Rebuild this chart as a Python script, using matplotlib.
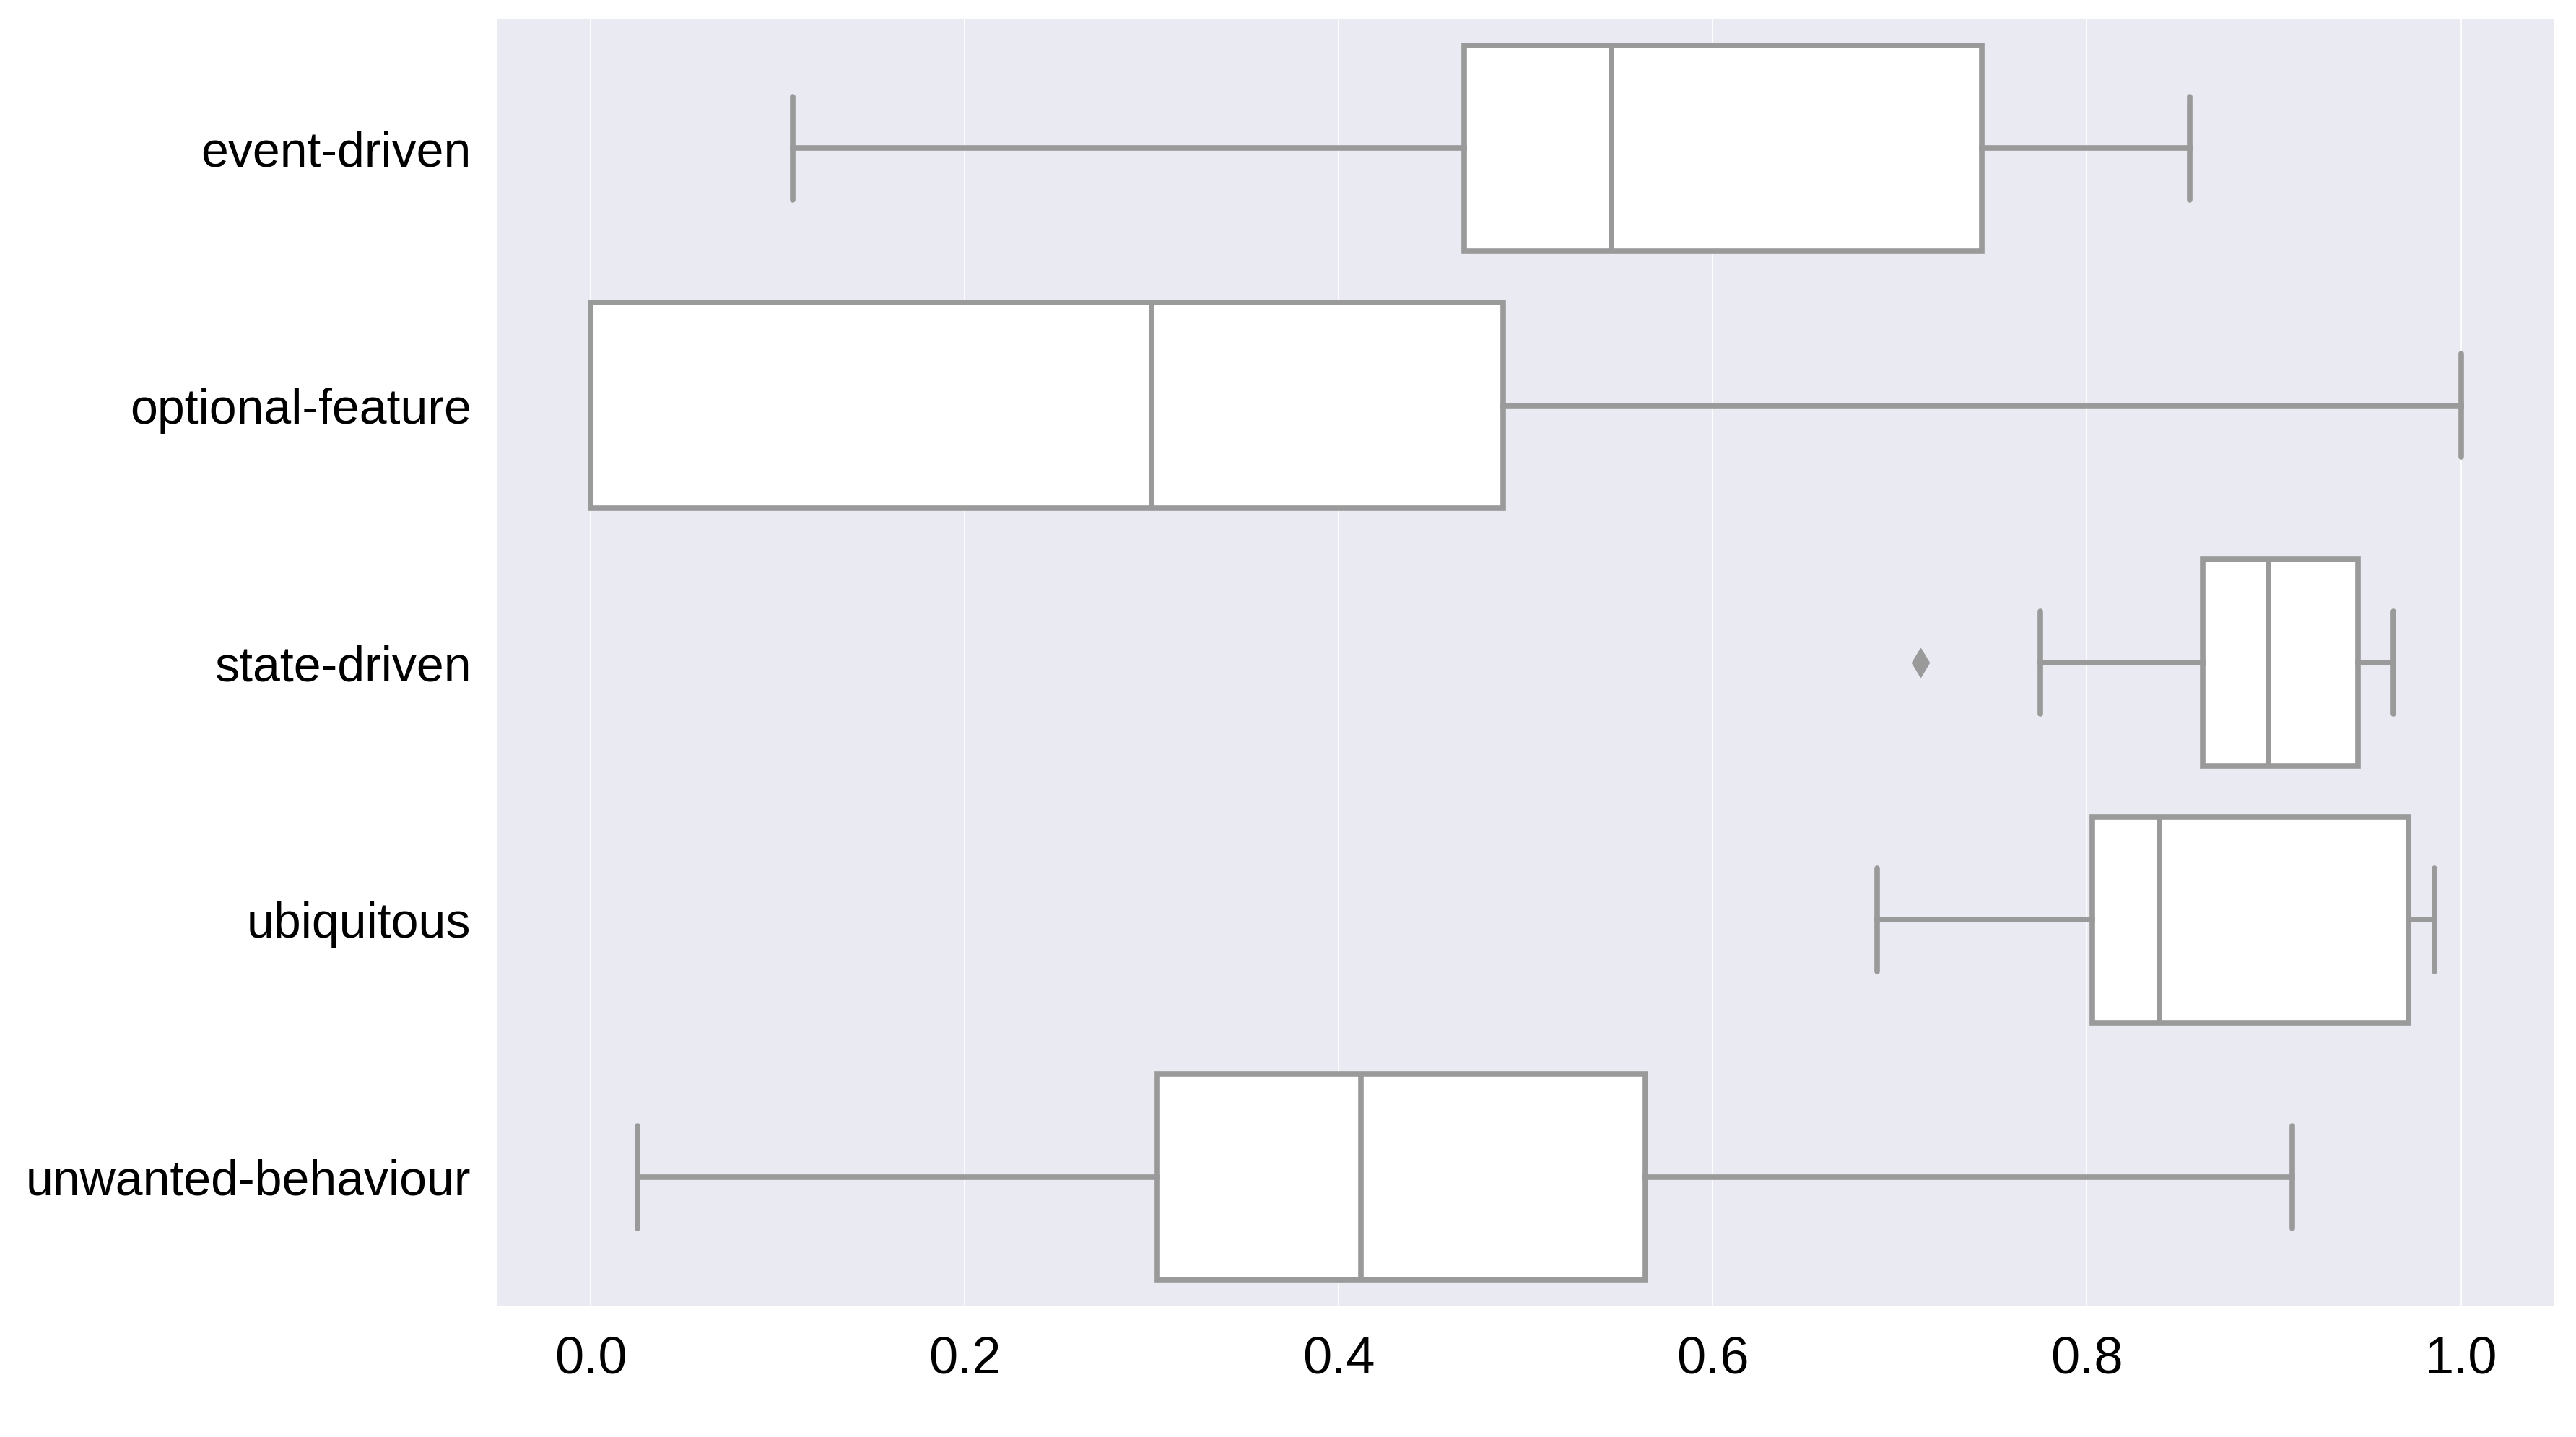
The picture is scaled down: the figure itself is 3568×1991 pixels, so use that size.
import matplotlib
matplotlib.use('Agg')
import matplotlib.pyplot as plt

# values (five-number summaries per category)
categories = ['event-driven', 'optional-feature', 'state-driven', 'ubiquitous', 'unwanted-behaviour']
whislo = [0.108, 0.0, 0.775, 0.688, 0.025]
q1 = [0.467, 0.0, 0.862, 0.803, 0.303]
med = [0.546, 0.300, 0.897, 0.839, 0.412]
q3 = [0.744, 0.488, 0.945, 0.972, 0.564]
whishi = [0.855, 1.0, 0.964, 0.986, 0.910]
fliers = [[], [], [0.711], [], []]
xticks = [0.0, 0.2, 0.4, 0.6, 0.8, 1.0]

gray = '#9a9a9a'
fam = ['Liberation Sans', 'DejaVu Sans']

stats = []
for i, name in enumerate(categories):
    stats.append({'label': name, 'whislo': whislo[i], 'q1': q1[i], 'med': med[i],
                  'q3': q3[i], 'whishi': whishi[i], 'fliers': fliers[i]})

fig = plt.figure(figsize=(35.68, 19.91), dpi=100)
ax = fig.add_axes([0.193, 0.0914, 0.7986, 0.895])
ax.set_facecolor('#EAEAF2')
for s in ax.spines.values():
    s.set_visible(False)

pos = list(range(len(categories)))
lw = 5.5
ax.bxp(stats, positions=pos, widths=0.8, capwidths=0.4, orientation='horizontal',
       patch_artist=True, showfliers=True,
       boxprops=dict(facecolor='white', edgecolor=gray, linewidth=lw),
       medianprops=dict(color=gray, linewidth=lw),
       whiskerprops=dict(color=gray, linewidth=lw),
       capprops=dict(color=gray, linewidth=lw, solid_capstyle='round'),
       flierprops=dict(marker='d', markerfacecolor=gray, markeredgecolor=gray, markersize=20))

ax.set_ylim(len(categories) - 0.5, -0.5)
ax.set_xlim(-0.05, 1.05)
ax.set_yticks(pos)
ax.set_yticklabels(categories, family=fam, fontsize=49)
ax.set_xticks(xticks)
ax.set_xticklabels([f'{t:.1f}' for t in xticks], family=fam, fontsize=52)
ax.tick_params(axis='both', length=0)
ax.tick_params(axis='x', pad=30)
ax.tick_params(axis='y', pad=26)
ax.grid(axis='x', color='white', linewidth=1.3)
ax.set_axisbelow(True)

fig.savefig('out.png', dpi=100, facecolor='white')
